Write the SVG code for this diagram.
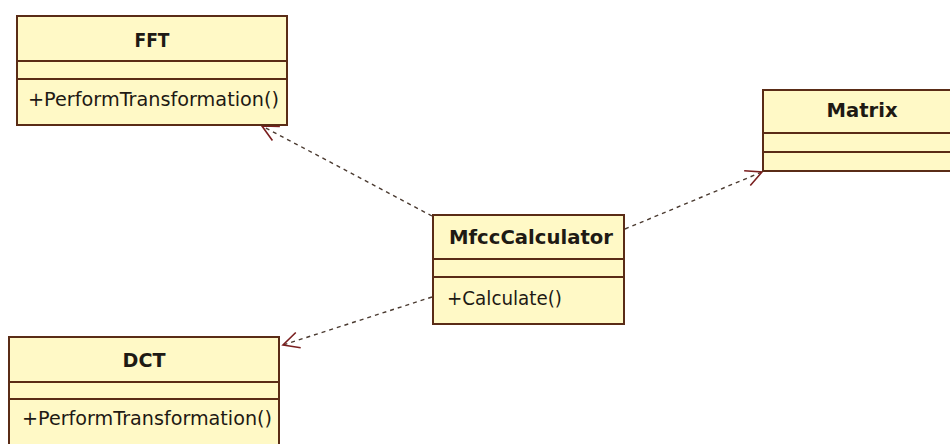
<svg xmlns="http://www.w3.org/2000/svg" width="950" height="444" viewBox="0 0 950 444">
  <style>
    .box { fill: #fff9c6; stroke: #5a2c16; stroke-width: 2; }
    .sep { stroke: #5a2c16; stroke-width: 2; }
    .title { font-family: "DejaVu Sans", Tahoma, sans-serif; font-size: 19px; font-weight: bold; fill: #1e1a14; text-anchor: middle; }
    .op { font-family: "DejaVu Sans", Tahoma, sans-serif; font-size: 19px; fill: #1e1a14; }
    .dep { fill: none; stroke: #4a3a30; stroke-width: 1.4; stroke-dasharray: 4 4; }
  </style>
  <defs>
    <marker id="open" markerUnits="userSpaceOnUse" viewBox="-18 -10 20 20" refX="0" refY="0" markerWidth="20" markerHeight="20" orient="auto">
      <path d="M -16 -8 L 0 0 L -16 8" fill="none" stroke="#7a1f1f" stroke-width="1.6"/>
    </marker>
  </defs>
  <rect width="950" height="444" fill="#ffffff"/>

  <g id="connectors">
    <line class="dep" x1="432" y1="216" x2="262" y2="126" marker-end="url(#open)"/>
    <line class="dep" x1="625" y1="229" x2="762" y2="172" marker-end="url(#open)"/>
    <line class="dep" x1="432" y1="297" x2="283" y2="345" marker-end="url(#open)"/>
  </g>

  <g id="FFT">
    <rect class="box" x="17" y="16" width="270" height="109"/>
    <line class="sep" x1="17" y1="61" x2="287" y2="61"/>
    <line class="sep" x1="17" y1="79" x2="287" y2="79"/>
    <text class="title" x="152" y="47" textLength="35" lengthAdjust="spacingAndGlyphs">FFT</text>
    <text class="op" x="28" y="106" textLength="251" lengthAdjust="spacingAndGlyphs">+PerformTransformation()</text>
  </g>

  <g id="Matrix">
    <rect class="box" x="763" y="90" width="200" height="81"/>
    <line class="sep" x1="763" y1="133" x2="963" y2="133"/>
    <line class="sep" x1="763" y1="152" x2="963" y2="152"/>
    <text class="title" x="862" y="117" textLength="71" lengthAdjust="spacingAndGlyphs">Matrix</text>
  </g>

  <g id="MfccCalculator">
    <rect class="box" x="433" y="215" width="191" height="109"/>
    <line class="sep" x1="433" y1="259" x2="624" y2="259"/>
    <line class="sep" x1="433" y1="277" x2="624" y2="277"/>
    <text class="title" x="531" y="244" textLength="164" lengthAdjust="spacingAndGlyphs">MfccCalculator</text>
    <text class="op" x="447" y="305" textLength="115" lengthAdjust="spacingAndGlyphs">+Calculate()</text>
  </g>

  <g id="DCT">
    <rect class="box" x="9" y="337" width="270" height="115"/>
    <line class="sep" x1="9" y1="382" x2="279" y2="382"/>
    <line class="sep" x1="9" y1="399" x2="279" y2="399"/>
    <text class="title" x="144" y="367" textLength="43" lengthAdjust="spacingAndGlyphs">DCT</text>
    <text class="op" x="22" y="425" textLength="250" lengthAdjust="spacingAndGlyphs">+PerformTransformation()</text>
  </g>
</svg>
